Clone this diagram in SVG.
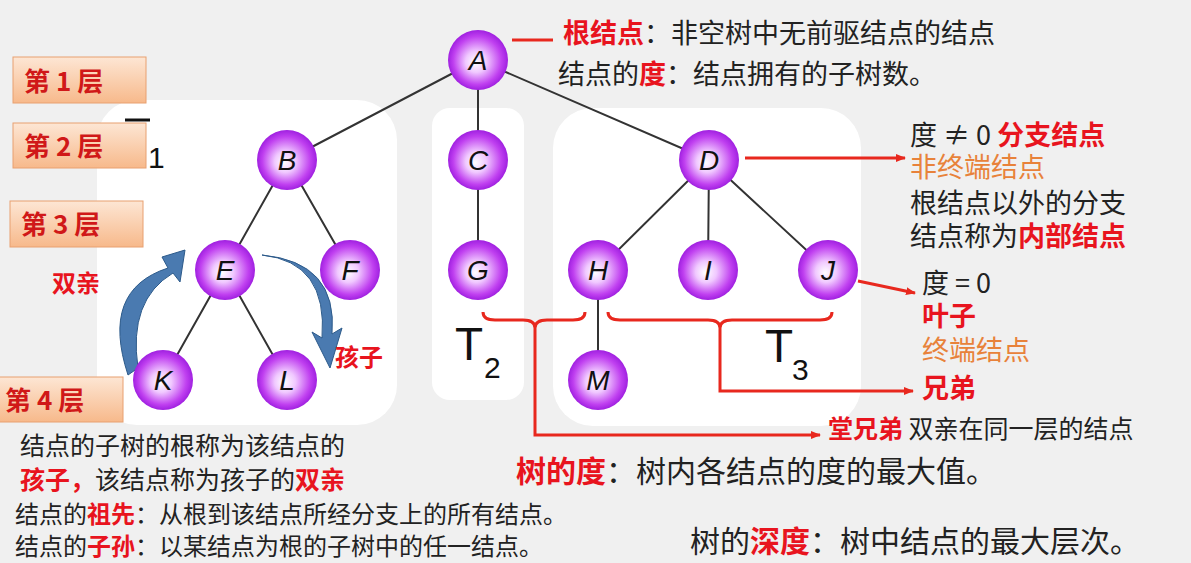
<svg xmlns="http://www.w3.org/2000/svg" width="1191" height="563" viewBox="0 0 1191 563">
<defs>
<radialGradient id="g" cx="0.5" cy="0.5" r="0.5" fx="0.45" fy="0.55">
<stop offset="0" stop-color="#ffffff"/><stop offset="0.35" stop-color="#f0c8ff"/><stop offset="0.8" stop-color="#c040f0"/><stop offset="1" stop-color="#a020e0"/>
</radialGradient>
<linearGradient id="lb" x1="0" y1="0" x2="0" y2="1"><stop offset="0" stop-color="#fde6d4"/><stop offset="1" stop-color="#f7b98b"/></linearGradient>
<marker id="ar" markerWidth="10" markerHeight="10" refX="9" refY="5" orient="auto" markerUnits="userSpaceOnUse"><path d="M0,1 L10,5 L0,9 z" fill="#e8281e"/></marker>
</defs>
<style>
.t{font-family:"Noto Sans CJK SC","Noto Sans",sans-serif;font-size:27px;fill:#222}
.r{fill:#e8141e;font-weight:bold}
.o{fill:#e8823a}
.n{font-family:"Liberation Sans",sans-serif;font-style:italic;font-size:28px;text-anchor:middle;fill:#111}
.lv{font-family:"Noto Sans CJK SC",sans-serif;font-size:26px;font-weight:bold;fill:#d01818}
.e{stroke:#333;stroke-width:2;fill:none}
.rl{stroke:#e8281e;stroke-width:3;fill:none}
.big{font-family:"Liberation Sans",sans-serif;font-size:46px;fill:#111}
</style>
<rect width="1191" height="563" fill="#f0f0f0"/>
<g id="panels" fill="#ffffff">
<rect x="97" y="100" width="300" height="325" rx="40"/>
<rect x="432" y="108" width="92" height="292" rx="18"/>
<rect x="553" y="108" width="308" height="318" rx="40"/>
</g>
<g id="levels">
<rect x="13" y="57" width="133" height="46" fill="url(#lb)" stroke="#e8a070"/><text class="lv" x="24" y="91">第 1 层</text>
<rect x="13" y="123" width="133" height="45" fill="url(#lb)" stroke="#e8a070"/><text class="lv" x="24" y="156">第 2 层</text>
<rect x="10" y="201" width="133" height="46" fill="url(#lb)" stroke="#e8a070"/><text class="lv" x="21" y="234">第 3 层</text>
<rect x="-2" y="377" width="125" height="45" fill="url(#lb)" stroke="#e8a070"/><text class="lv" x="5" y="410">第 4 层</text>
</g>
<g id="connectors">
<path class="e" d="M478,60 L287,160 M478,60 L478,160 M478,60 L709,160 M287,160 L225,270 M287,160 L350,270 M478,160 L478,270 M709,160 L598,270 M709,160 L708,270 M709,160 L828,270 M225,270 L163,380 M225,270 L287,380 M598,270 L598,380"/>
<path class="rl" d="M512,40 L553,40"/>
<path class="rl" d="M745,158 L905,158" marker-end="url(#ar)"/>
<path class="rl" d="M858,281 L915,293" marker-end="url(#ar)"/>
<path class="rl" d="M483,312 Q483,320 495,320 L523,320 Q535,320 535,328 Q535,320 547,320 L573,320 Q585,320 585,312"/>
<path class="rl" d="M535,328 L535,435 L820,435" marker-end="url(#ar)"/>
<path class="rl" d="M608,312 Q608,320 620,320 L708,320 Q720,320 720,328 Q720,320 732,320 L820,320 Q832,320 832,312"/>
<path class="rl" d="M720,328 L720,391 L913,391" marker-end="url(#ar)"/>
<path d="M128,375 Q100,290 168,268 L162,257 L185,250 L180,282 L173,273 Q128,300 138,368 Z" fill="#4a7ab0" stroke="#2c5a8a"/>
<path d="M262,255 Q328,262 322,338 L312,332 L330,368 L342,328 L332,334 Q338,262 262,255 Z" fill="#4a7ab0" stroke="#2c5a8a"/>
</g>
<g id="nodes">
<g id="A"><circle cx="478" cy="60" r="30" fill="url(#g)"/><text class="n" x="478" y="70">A</text></g>
<g id="B"><circle cx="287" cy="160" r="30" fill="url(#g)"/><text class="n" x="287" y="170">B</text></g>
<g id="C"><circle cx="478" cy="160" r="30" fill="url(#g)"/><text class="n" x="478" y="170">C</text></g>
<g id="D"><circle cx="709" cy="160" r="30" fill="url(#g)"/><text class="n" x="709" y="170">D</text></g>
<g id="E"><circle cx="225" cy="270" r="30" fill="url(#g)"/><text class="n" x="225" y="280">E</text></g>
<g id="F"><circle cx="350" cy="270" r="30" fill="url(#g)"/><text class="n" x="350" y="280">F</text></g>
<g id="G"><circle cx="478" cy="270" r="30" fill="url(#g)"/><text class="n" x="478" y="280">G</text></g>
<g id="H"><circle cx="598" cy="270" r="30" fill="url(#g)"/><text class="n" x="598" y="280">H</text></g>
<g id="I"><circle cx="708" cy="270" r="30" fill="url(#g)"/><text class="n" x="708" y="280">I</text></g>
<g id="J"><circle cx="828" cy="270" r="30" fill="url(#g)"/><text class="n" x="828" y="280">J</text></g>
<g id="K"><circle cx="163" cy="380" r="30" fill="url(#g)"/><text class="n" x="163" y="390">K</text></g>
<g id="L"><circle cx="287" cy="380" r="30" fill="url(#g)"/><text class="n" x="287" y="390">L</text></g>
<g id="M"><circle cx="598" cy="380" r="30" fill="url(#g)"/><text class="n" x="598" y="390">M</text></g>
</g>
<g id="labels">
<path d="M125,120 L150,120" stroke="#111" stroke-width="3"/>
<text class="big" x="148" y="168" style="font-size:30px">1</text>
<text class="big" x="455" y="360">T</text><text class="big" x="484" y="378" style="font-size:30px">2</text>
<text class="big" x="765" y="362">T</text><text class="big" x="792" y="380" style="font-size:30px">3</text>
<text class="t" x="52" y="292" style="font-size:24px"><tspan class="r">双亲</tspan></text>
<text class="t" x="335" y="366" style="font-size:24px"><tspan class="r">孩子</tspan></text>
<text class="t" x="563" y="43"><tspan class="r">根结点</tspan>：非空树中无前驱结点的结点</text>
<text class="t" x="558" y="84">结点的<tspan class="r">度</tspan>：结点拥有的子树数。</text>
<text class="t" x="910" y="145">度 ≠ 0 <tspan class="r">分支结点</tspan></text>
<text class="t" x="910" y="177"><tspan class="o">非终端结点</tspan></text>
<text class="t" x="910" y="213">根结点以外的分支</text>
<text class="t" x="910" y="246">结点称为<tspan class="r">内部结点</tspan></text>
<text class="t" x="922" y="293">度 = 0</text>
<text class="t" x="922" y="326"><tspan class="r">叶子</tspan></text>
<text class="t" x="922" y="360"><tspan class="o">终端结点</tspan></text>
<text class="t" x="922" y="398"><tspan class="r">兄弟</tspan></text>
<text class="t" x="828" y="438" style="font-size:25px"><tspan class="r">堂兄弟</tspan> 双亲在同一层的结点</text>
<text class="t" x="516" y="482" style="font-size:30px"><tspan class="r">树的度</tspan>：树内各结点的度的最大值。</text>
<text class="t" x="690" y="552" style="font-size:30px">树的<tspan class="r">深度</tspan>：树中结点的最大层次。</text>
<text class="t" x="20" y="455" style="font-size:25px">结点的子树的根称为该结点的</text>
<text class="t" x="20" y="489" style="font-size:25px"><tspan class="r">孩子，</tspan>该结点称为孩子的<tspan class="r">双亲</tspan></text>
<text class="t" x="15" y="523" style="font-size:24px">结点的<tspan class="r">祖先</tspan>：从根到该结点所经分支上的所有结点。</text>
<text class="t" x="15" y="555" style="font-size:24px">结点的<tspan class="r">子孙</tspan>：以某结点为根的子树中的任一结点。</text>
</g>
</svg>
